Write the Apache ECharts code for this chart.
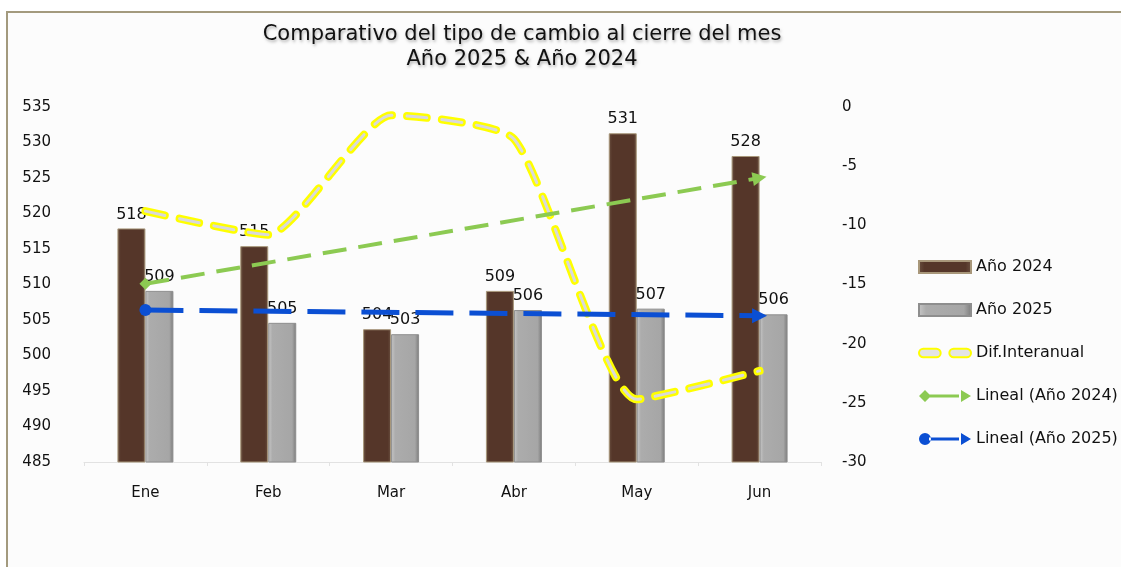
<!DOCTYPE html>
<html>
<head>
<meta charset="utf-8">
<script src="https://cdn.jsdelivr.net/npm/echarts/dist/echarts.min.js"></script>
<style>
  html, body { margin: 0; padding: 0; background: #ffffff; }
  #main { width: 1121px; height: 567px; }
</style>
</head>
<body>
<div id="main"></div>
<script>
// datos
var meses = ["Ene", "Feb", "Mar", "Abr", "May", "Jun"];
var anio2024 = [517.9, 515.4, 503.7, 509.1, 531.3, 528.1];
var anio2025 = [509.1, 504.6, 503.0, 506.4, 506.6, 505.8];
var difInteranual = [-8.8, -10.8, -0.7, -2.7, -24.7, -22.3];
var lineal2024 = [["Ene", 510.1], ["Jun", 525.0]];
var lineal2025 = [["Ene", 506.4], ["Jun", 505.6]];

var fuente = "DejaVu Sans";
var myChart = echarts.init(document.getElementById("main"));

var iconDiamante = "path://M0 6L6 0L12 6L6 12ZM10 4.5L40 4.5L40 7.5L10 7.5ZM42 0L52 6L42 12Z";
var iconCirculo = "path://M0 6A6 6 0 1 0 12 6A6 6 0 1 0 0 6ZM10 4.5L40 4.5L40 7.5L10 7.5ZM42 0L52 6L42 12Z";
var iconPastillas = "path://M4 2L16 2A4 4 0 0 1 16 10L4 10A4 4 0 0 1 4 2ZM32 2L44 2A4 4 0 0 1 44 10L32 10A4 4 0 0 1 32 2Z";

function redondear(p) { return Math.round(p.value); }

var option = {
  backgroundColor: "transparent",
  graphic: [{
    type: "rect", z: -10, silent: true,
    shape: { x: 7, y: 12, width: 1200, height: 620 },
    style: { fill: "#fcfcfc", stroke: "#a39a7e", lineWidth: 2 }
  }],
  title: {
    text: "Comparativo del tipo de cambio al cierre del mes\nAño 2025 & Año 2024",
    left: 517, top: 17, textAlign: "center",
    textStyle: {
      fontFamily: fuente, fontSize: 21, fontWeight: "normal", color: "#111",
      lineHeight: 25,
      textShadowColor: "rgba(0,0,0,0.3)", textShadowBlur: 3,
      textShadowOffsetX: 1, textShadowOffsetY: 2
    }
  },
  legend: {
    orient: "vertical", left: 913, top: 254,
    itemWidth: 52, itemHeight: 12, itemGap: 27,
    textStyle: { fontFamily: fuente, fontSize: 16, color: "#111" },
    data: [
      { name: "Año 2024", icon: "rect" },
      { name: "Año 2025", icon: "rect" },
      { name: "Dif.Interanual", icon: iconPastillas,
        itemStyle: { color: "#e4e4e4", borderColor: "#ffff00", borderWidth: 2 } },
      { name: "Lineal (Año 2024)", icon: iconDiamante, itemStyle: { color: "#8cca52" } },
      { name: "Lineal (Año 2025)", icon: iconCirculo, itemStyle: { color: "#0b4fd3" } }
    ]
  },
  grid: { left: 84, right: 300, top: 107, bottom: 105 },
  xAxis: {
    type: "category", data: meses,
    axisLine: { onZero: false, lineStyle: { color: "#e2e2e2" } },
    axisTick: { show: true, length: 4, lineStyle: { color: "#e2e2e2" } },
    axisLabel: { fontFamily: fuente, fontSize: 15, color: "#111", margin: 24 }
  },
  yAxis: [{
    type: "value", min: 485, max: 535, interval: 5,
    splitLine: { show: false },
    axisLabel: { fontFamily: fuente, fontSize: 15, color: "#111", margin: 33 }
  }, {
    type: "value", min: -30, max: 0, interval: 5,
    splitLine: { show: false },
    axisLabel: { fontFamily: fuente, fontSize: 15, color: "#111", margin: 21, align: "left" }
  }],
  series: [{
    name: "Año 2024", type: "bar", data: anio2024,
    barWidth: 28, barGap: "0%",
    itemStyle: {
      color: new echarts.graphic.LinearGradient(0, 0, 1, 0, [
        { offset: 0, color: "#6b5141" }, { offset: 0.12, color: "#553629" },
        { offset: 0.88, color: "#553629" }, { offset: 1, color: "#6b5141" }
      ]),
      borderColor: "#a8977a", borderWidth: 1
    },
    label: { show: true, position: "top", distance: 6, fontFamily: fuente, fontSize: 16,
      color: "#111", formatter: redondear }
  }, {
    name: "Año 2025", type: "bar", data: anio2025,
    barWidth: 28,
    itemStyle: {
      color: new echarts.graphic.LinearGradient(0, 0, 1, 0, [
        { offset: 0, color: "#c8c8c8" }, { offset: 0.15, color: "#acacac" },
        { offset: 0.85, color: "#a6a6a6" }, { offset: 1, color: "#7a7a7a" }
      ]),
      borderColor: "#8e8e8e", borderWidth: 1
    },
    label: { show: true, position: "top", distance: 6, fontFamily: fuente, fontSize: 16,
      color: "#111", formatter: redondear }
  }, {
    name: "Dif.Interanual", type: "line", yAxisIndex: 1, data: difInteranual,
    smooth: 0.18, symbol: "none", z: 4,
    lineStyle: { color: "#ffff00", width: 8, type: [20, 15], cap: "round" }
  }, {
    name: "dif-interior", type: "line", yAxisIndex: 1, data: difInteranual,
    smooth: 0.18, symbol: "none", z: 5, silent: true,
    lineStyle: { color: "#d9d9d9", width: 3, type: [20, 15], cap: "round" }
  }, {
    name: "Lineal (Año 2024)", type: "line", z: 6,
    data: [
      { value: lineal2024[0], symbol: "diamond", symbolSize: 12 },
      { value: lineal2024[1], symbol: "triangle", symbolSize: 14, symbolRotate: -80 }
    ],
    itemStyle: { color: "#8cca52" },
    lineStyle: { color: "#8cca52", width: 4, type: [24, 12] }
  }, {
    name: "Lineal (Año 2025)", type: "line", z: 6,
    data: [
      { value: lineal2025[0], symbol: "circle", symbolSize: 12 },
      { value: lineal2025[1], symbol: "triangle", symbolSize: 15, symbolRotate: -90 }
    ],
    itemStyle: { color: "#0b4fd3" },
    lineStyle: { color: "#0b4fd3", width: 5, type: [38, 16] }
  }]
};

myChart.setOption(option);
</script>
</body>
</html>
